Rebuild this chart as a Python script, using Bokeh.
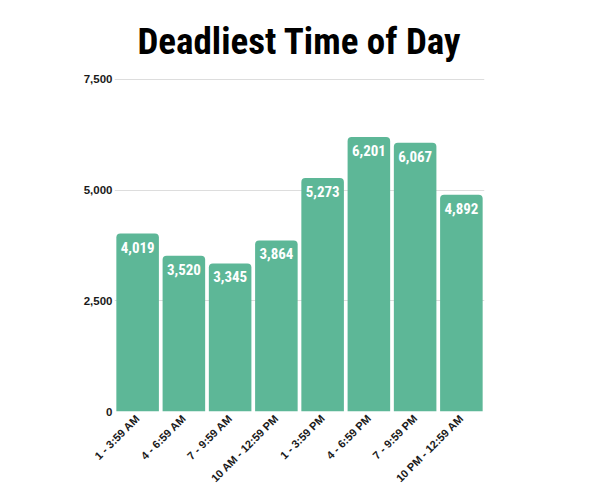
from bokeh.plotting import figure
from bokeh.models import ColumnDataSource, Range1d, FixedTicker, NumeralTickFormatter
from bokeh.core.properties import value
from bokeh.embed import file_html
from bokeh.resources import INLINE

categories = ["1 - 3:59 AM", "4 - 6:59 AM", "7 - 9:59 AM", "10 AM - 12:59 PM",
              "1 - 3:59 PM", "4 - 6:59 PM", "7 - 9:59 PM", "10 PM - 12:59 AM"]
deaths = [4019, 3520, 3345, 3864, 5273, 6201, 6067, 4892]
y_ticks = [0, 2500, 5000, 7500]

COND = "'Roboto Condensed', 'DejaVu Sans Condensed', 'Liberation Sans Narrow', sans-serif"

labels = [f"{v:,}" for v in deaths]
src = ColumnDataSource(dict(cat=categories, val=deaths, lab=labels))

p = figure(x_range=categories, y_range=Range1d(0, 7520), width=600, height=503,
           output_backend="svg", toolbar_location=None,
           title="Deadliest Time of Day",
           min_border_left=114, min_border_right=116, min_border_top=78, min_border_bottom=92)
p.x_range.range_padding = 0.0
p.title.align = "center"
p.title.text_font = COND
p.title.text_font_size = "37px"
p.title.text_font_style = "bold"
p.title.text_color = "#000000"
p.title.standoff = 31

p.vbar(x="cat", top="val", width=0.92, source=src, fill_color="#5db797",
       line_color=None, border_radius=(4, 4, 0, 0))
p.text(x="cat", y="val", text="lab", source=src, text_color="white",
       text_font=value(COND), text_font_style="bold",
       text_font_size="15px", text_align="center", text_baseline="top", y_offset=8)

p.outline_line_color = None
p.xgrid.grid_line_color = None
p.ygrid.grid_line_color = "#dddddd"
p.yaxis.ticker = FixedTicker(ticks=y_ticks)
p.yaxis.formatter = NumeralTickFormatter(format="0,0")
for ax in (p.xaxis[0], p.yaxis[0]):
    ax.axis_line_color = None
    ax.major_tick_line_color = None
    ax.minor_tick_line_color = None
    ax.major_tick_out = 0
    ax.major_tick_in = 0
    ax.minor_tick_out = 0
    ax.major_label_text_font = "Liberation Sans"
    ax.major_label_text_font_style = "bold"
    ax.major_label_text_font_size = "11px"
    ax.major_label_text_color = "#1a1a1a"
p.yaxis.major_label_text_font_size = "11.5px"
p.xaxis.major_label_orientation = 0.785
p.yaxis.major_label_standoff = 2
p.xaxis.major_label_standoff = 5

open("out.html", "w").write(file_html(p, INLINE))
